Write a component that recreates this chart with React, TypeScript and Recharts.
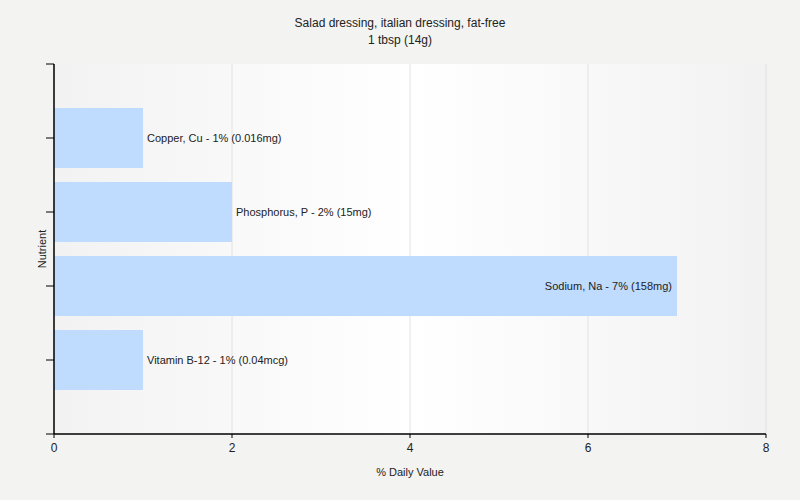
import React from "react";
import { BarChart, Bar, XAxis, YAxis, CartesianGrid, LabelList, Label } from "recharts";

const nutrients = ["Copper, Cu", "Phosphorus, P", "Sodium, Na", "Vitamin B-12"];
const positions = [1, 2, 3, 4];
const percentDV = [1, 2, 7, 1];
const amounts = ["0.016mg", "15mg", "158mg", "0.04mcg"];
const xTicks = [0, 2, 4, 6, 8];
const yTicks = [0, 1, 2, 3, 4, 5];
const titleLines = ["Salad dressing, italian dressing, fat-free", "1 tbsp (14g)"];

const data = nutrients.map((n, i) => ({
  name: n,
  pos: positions[i],
  value: percentDV[i],
  label: `${n} - ${percentDV[i]}% (${amounts[i]})`,
}));

const FONT = "'Liberation Sans', Arial, sans-serif";

const renderLabel = (props: any) => {
  const { x, y, width, height, index } = props;
  const d = data[index];
  const inside = d.value > 4;
  const tx = inside ? x + width - 5 : x + width + 4;
  return (
    <text
      x={tx}
      y={y + height / 2}
      dy={4}
      textAnchor={inside ? "end" : "start"}
      fontSize={11}
      fontFamily={FONT}
      fill="#222"
    >
      {d.label}
    </text>
  );
};

const renderYTitle = (props: any) => {
  const vb = props.viewBox || {};
  const cx = vb.x + vb.width - 8;
  const cy = vb.y + vb.height / 2;
  return (
    <text
      x={cx}
      y={cy}
      transform={`rotate(-90 ${cx} ${cy})`}
      textAnchor="middle"
      fontSize={11}
      fontFamily={FONT}
      fill="#222"
    >
      Nutrient
    </text>
  );
};

export default function App() {
  return (
    <div style={{ position: "absolute", left: 0, top: 0, width: 800, height: 500, background: "#f3f3f2" }}>
      <svg width={800} height={60} style={{ position: "absolute", left: 0, top: 0 }}>
        {titleLines.map((t, i) => (
          <text key={i} x={400} y={27 + i * 17} textAnchor="middle" fontSize={12} fontFamily={FONT} fill="#222">
            {t}
          </text>
        ))}
      </svg>
      <div style={{ position: "absolute", left: 0, top: 0 }}>
        <BarChart
          width={800}
          height={500}
          data={data}
          layout="vertical"
          margin={{ top: 64, right: 34, bottom: 0, left: 0 }}
        >
          <defs>
            <linearGradient id="plotBg" x1="0" y1="0" x2="1" y2="0">
              <stop offset="0" stopColor="#f2f2f2" />
              <stop offset="0.5" stopColor="#ffffff" />
              <stop offset="1" stopColor="#f2f2f2" />
            </linearGradient>
          </defs>
          <CartesianGrid horizontal={false} stroke="#e2e2e2" fill="url(#plotBg)" />
          <XAxis
            type="number"
            domain={[0, 8]}
            ticks={xTicks}
            height={66}
            tickSize={4}
            tickMargin={5}
            stroke="#000"
            tick={{ fill: "#222", fontSize: 12, fontFamily: FONT }}
            axisLine={{ stroke: "#000", strokeWidth: 1.5 }}
          >
            <Label value="% Daily Value" position="insideTop" offset={34} fontSize={11} fontFamily={FONT} fill="#222" />
          </XAxis>
          <YAxis
            type="number"
            dataKey="pos"
            domain={[0, 5]}
            ticks={yTicks}
            width={54}
            tickSize={8}
            tickFormatter={() => ""}
            stroke="#000"
            axisLine={{ stroke: "#000", strokeWidth: 1.5 }}
          >
            <Label content={renderYTitle} />
          </YAxis>
          <Bar dataKey="value" fill="#bfdbfe" barSize={60} isAnimationActive={false}>
            <LabelList dataKey="label" content={renderLabel} />
          </Bar>
        </BarChart>
      </div>
    </div>
  );
}
